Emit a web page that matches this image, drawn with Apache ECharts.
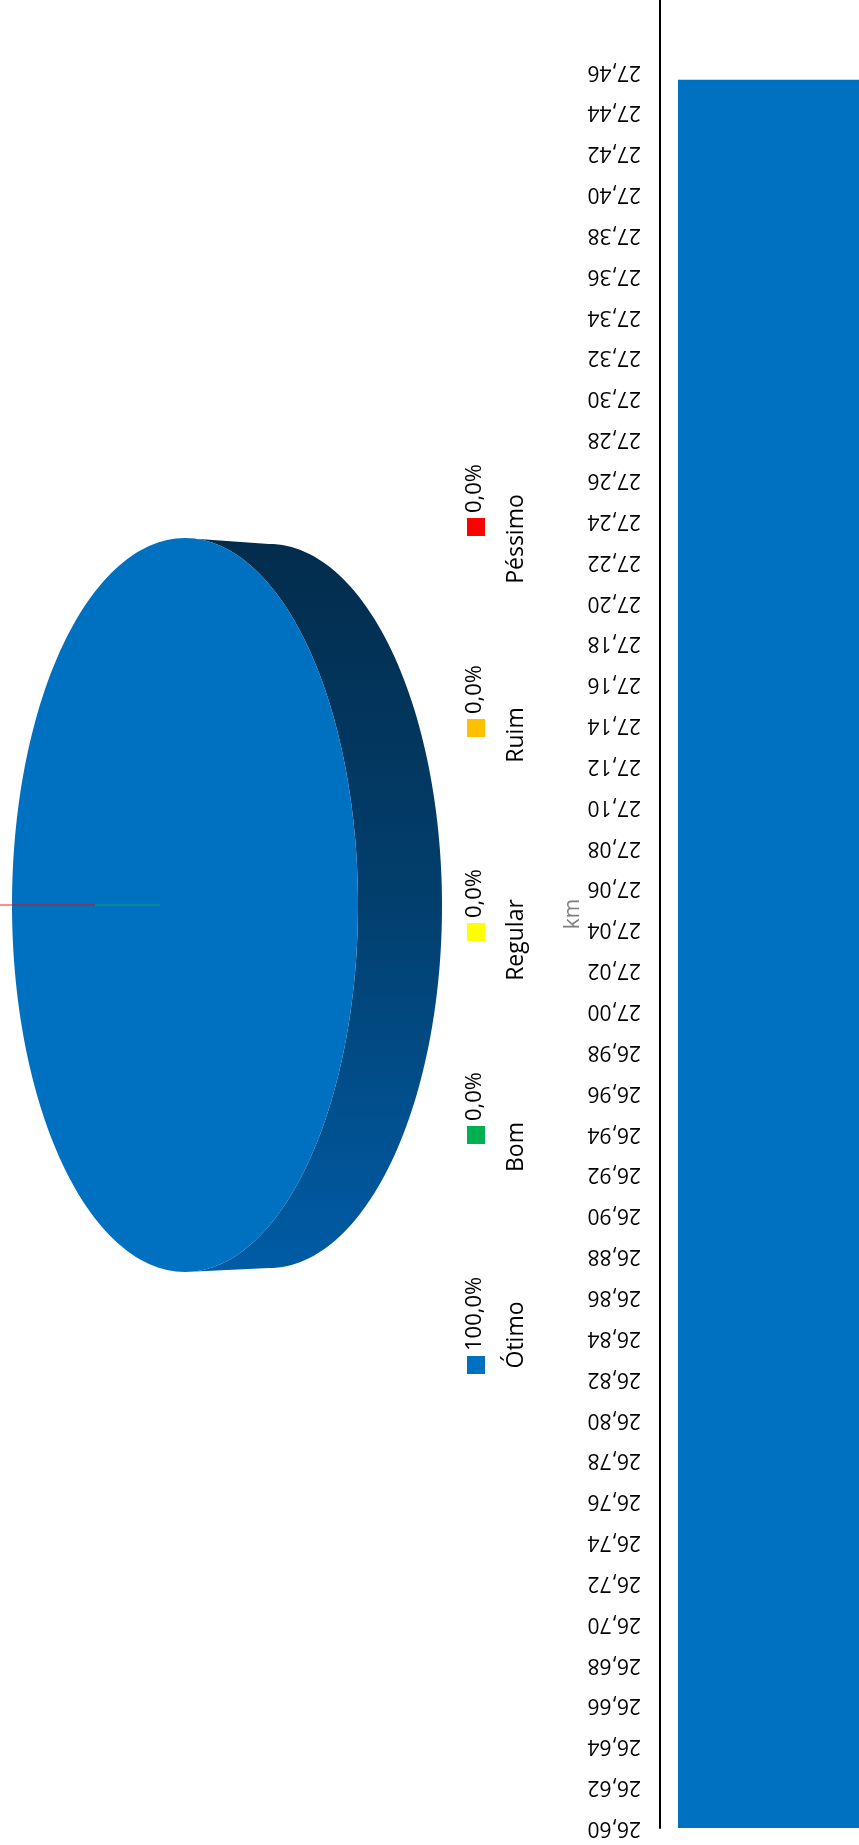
<!DOCTYPE html>
<html>
<head>
<meta charset="utf-8">
<script src="https://cdn.jsdelivr.net/npm/echarts@6/dist/echarts.min.js"></script>
<style>
html,body{margin:0;padding:0;background:#fff;}
#chart{width:859px;height:1845px;}
</style>
</head>
<body>
<div id="chart"></div>
<script>
// ---------- DATA ----------
const categories = ['Ótimo', 'Bom', 'Regular', 'Ruim', 'Péssimo'];
const pieValues = [100, 0, 0, 0, 0];
const barCategories = ['Extensão'];
const barValues = [27.456];
const axisName = 'km';
const tickLabels = ['26,60','26,62','26,64','26,66','26,68','26,70','26,72','26,74','26,76','26,78',
  '26,80','26,82','26,84','26,86','26,88','26,90','26,92','26,94','26,96','26,98',
  '27,00','27,02','27,04','27,06','27,08','27,10','27,12','27,14','27,16','27,18',
  '27,20','27,22','27,24','27,26','27,28','27,30','27,32','27,34','27,36','27,38',
  '27,40','27,42','27,44','27,46'];

// ---------- STYLE / LAYOUT ----------
const sliceColors = ['#0070C0', '#00B050', '#FFFF00', '#FFC000', '#FF0000'];
const FONT = '"Open Sans", "Noto Sans", sans-serif';
const axisMin = parseFloat(tickLabels[0].replace(',', '.'));
const axisStep = 0.02;
const axisMax = 27.495;
const pieGeo = { cx: 185, cy: 905, rx: 173, ry: 367, bx: 269, by: 906, brx: 173, bry: 362, startAngle: Math.PI };
const zeroEdge = { 1: [25, 90], 4: [90, 185] };   // visible edge strokes of empty slices
const legendLayout = { squareX: 476, size: 18, pctX: 475, nameX: 516,
  squareY: [1365, 1135, 932, 728, 527], nameY: [1335, 1147, 940, 735, 539] };

function pct(v) {
  const tot = pieValues.reduce((a, b) => a + b, 0);
  return (v / tot * 100).toFixed(1).replace('.', ',') + '%';
}
function ellPts(cx, cy, rx, ry, a0, a1, n) {
  const pts = [];
  for (let i = 0; i <= n; i++) {
    const a = a0 + (a1 - a0) * i / n;
    pts.push([cx + rx * Math.cos(a), cy + ry * Math.sin(a)]);
  }
  return pts;
}

function renderSlice(params, api) {
  const idx = params.dataIndex;
  const total = pieValues.reduce((a, b) => a + b, 0);
  let before = 0;
  for (let i = 0; i < idx; i++) before += pieValues[i];
  const a0 = pieGeo.startAngle + before / total * Math.PI * 2;
  const sweep = api.value(0) / total * Math.PI * 2;
  const g = pieGeo;
  if (sweep <= 0) {
    const seg = zeroEdge[idx];
    if (!seg) return null;
    return {
      type: 'line', z2: 10,
      shape: { x1: g.cx + seg[0] * Math.cos(a0), y1: g.cy + seg[0] * Math.sin(a0),
               x2: g.cx + seg[1] * Math.cos(a0), y2: g.cy + seg[1] * Math.sin(a0) },
      style: { stroke: sliceColors[idx], lineWidth: 1.5, opacity: 0.6 }
    };
  }
  const a1 = a0 + sweep;
  const children = [];
  for (let k = -2; k <= 3; k++) {
    const lo = Math.max(a0, -Math.PI / 2 + 2 * Math.PI * k);
    const hi = Math.min(a1, Math.PI / 2 + 2 * Math.PI * k);
    if (hi > lo) {
      const back = ellPts(g.bx, g.by, g.brx, g.bry, lo, hi, 120);
      const front = ellPts(g.cx, g.cy, g.rx, g.ry, hi, lo, 120);
      children.push({
        type: 'polygon',
        shape: { points: back.concat(front) },
        style: {
          fill: new echarts.graphic.LinearGradient(0, 0, 0, 1, [
            { offset: 0, color: '#032c4c' },
            { offset: 0.5, color: '#023f6e' },
            { offset: 1, color: '#005ca6' }
          ]),
          stroke: null
        }
      });
    }
  }
  const face = [[g.cx, g.cy]].concat(ellPts(g.cx, g.cy, g.rx, g.ry, a0, a1, 240));
  children.push({ type: 'polygon', shape: { points: face }, style: { fill: sliceColors[idx], stroke: null } });
  return { type: 'group', children: children };
}

const legendGraphics = [];
categories.forEach((c, i) => {
  const L = legendLayout;
  const sy = L.squareY[i];
  legendGraphics.push({ type: 'rect', silent: true,
    shape: { x: L.squareX - L.size / 2, y: sy - L.size / 2, width: L.size, height: L.size },
    style: { fill: sliceColors[i] } });
  legendGraphics.push({ type: 'text', silent: true, x: L.pctX, y: sy - L.size / 2 - 5, rotation: Math.PI / 2,
    style: { text: pct(pieValues[i]), fill: '#000', font: '22px ' + FONT, align: 'left', verticalAlign: 'middle' } });
  legendGraphics.push({ type: 'text', silent: true, x: L.nameX, y: L.nameY[i], rotation: Math.PI / 2,
    style: { text: c, fill: '#000', font: '23px ' + FONT, align: 'center', verticalAlign: 'middle' } });
});

const chart = echarts.init(document.getElementById('chart'), null, { renderer: 'canvas' });
chart.setOption({
  animation: false,
  backgroundColor: '#ffffff',
  grid: { left: 660, right: -180, top: 0, bottom: 17, outerBoundsMode: 'none', containLabel: false },
  xAxis: { type: 'category', data: barCategories, show: false },
  yAxis: {
    type: 'value', min: axisMin, max: axisMax, interval: axisStep,
    axisLine: { show: true, lineStyle: { color: '#000', width: 2 } },
    axisTick: { show: false },
    splitLine: { show: false },
    axisLabel: {
      rotate: 180, margin: 19, color: '#000', fontSize: 21, fontFamily: FONT,
      formatter: function (v) {
        const i = Math.round((v - axisMin) / axisStep);
        if (Math.abs(v - (axisMin + i * axisStep)) > 1e-6) return '';
        return tickLabels[i] || '';
      }
    },
    name: axisName, nameLocation: 'middle', nameGap: 76, nameRotate: 90,
    nameTextStyle: { color: '#7f7f7f', fontSize: 21, fontFamily: FONT }
  },
  series: [
    { type: 'bar', data: barValues, barWidth: '90.5%', itemStyle: { color: '#0070C0' }, silent: true },
    { type: 'custom', coordinateSystem: 'none', silent: true, renderItem: renderSlice,
      data: categories.map((c, i) => ({ name: c, value: [pieValues[i]] })) }
  ],
  graphic: legendGraphics
});
</script>
</body>
</html>
